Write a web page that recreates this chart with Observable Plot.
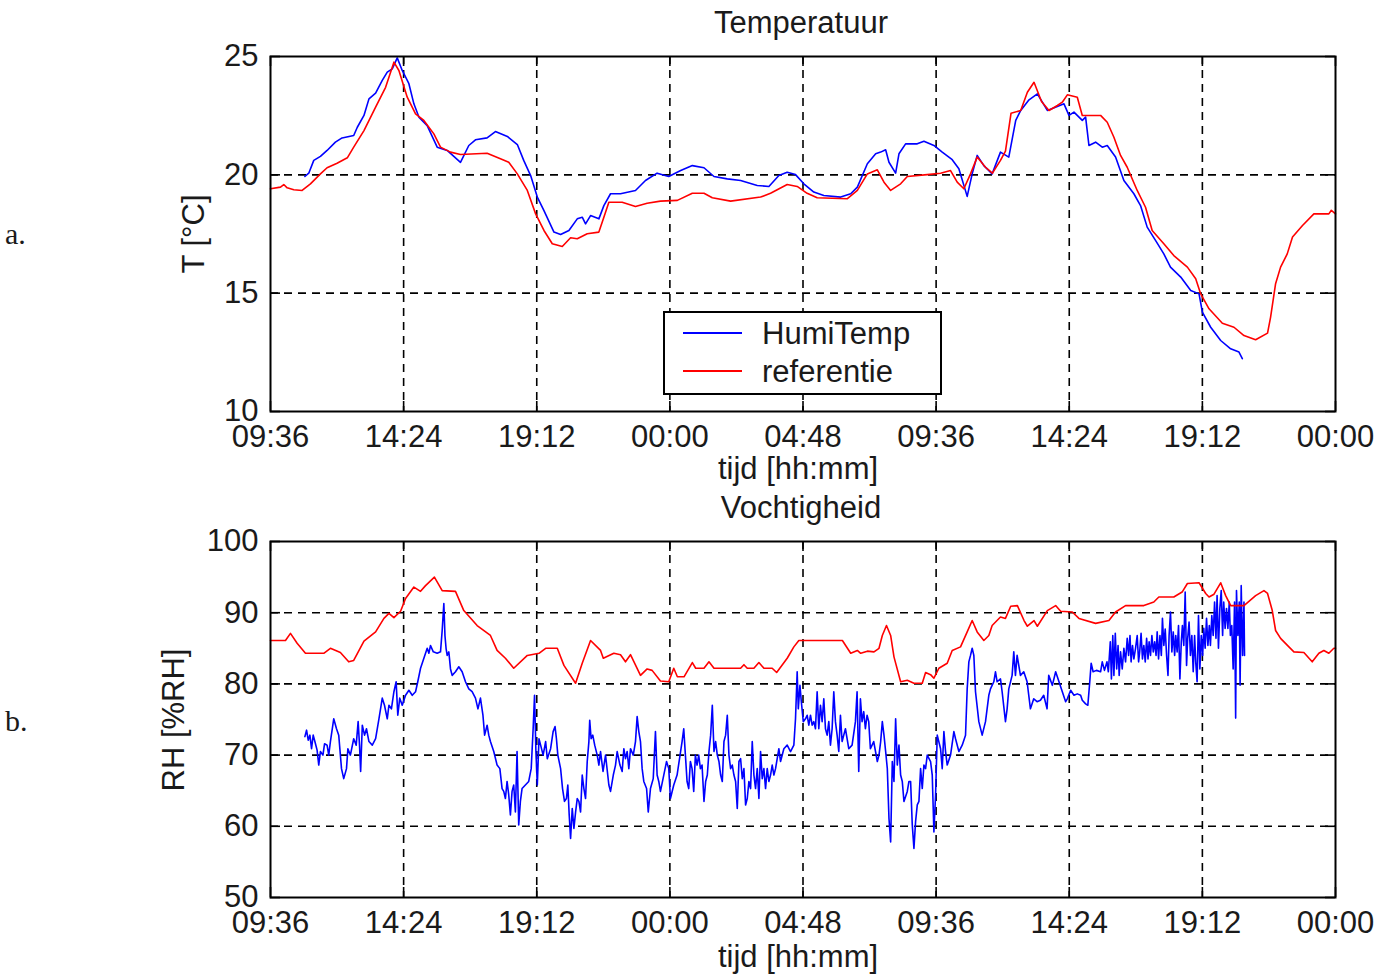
<!DOCTYPE html>
<html><head><meta charset="utf-8">
<script src="https://cdn.jsdelivr.net/npm/d3@7"></script>
<script src="https://cdn.jsdelivr.net/npm/@observablehq/plot@0.6"></script>
<style>
body{margin:0;background:#fff;width:1381px;height:978px;position:relative;overflow:hidden;font-family:"Liberation Sans",Arial,sans-serif;color:#1a1a1a}
.lbl{position:absolute;font-size:31px;white-space:nowrap;line-height:1;transform:translate(-50%,-50%)}
.rot{transform:translate(-50%,-50%) rotate(-90deg)}
.ab{position:absolute;font-family:"Liberation Serif","Times New Roman",serif;font-size:30px;line-height:1;transform:translateY(-50%)}
.panel{position:absolute;left:0}
#legend{position:absolute;left:663px;top:311px;width:275px;height:80px;border:2px solid #000;background:#fff}
.lg-line{position:absolute;left:18px;width:59px;height:0;border-top:2px solid}
.lg-txt{position:absolute;left:97px;font-size:31px;line-height:1;transform:translateY(-50%)}
</style></head><body>
<div id="p1" class="panel" style="top:0"></div>
<div id="p2" class="panel" style="top:480px"></div>
<script>
// ---- tick labels ----
const xTickHours = [0, 4.8, 9.6, 14.4, 19.2, 24, 28.8, 33.6, 38.4];
const xTickLabels = ["09:36", "14:24", "19:12", "00:00", "04:48", "09:36", "14:24", "19:12", "00:00"];
const tempTicks = [10, 15, 20, 25];
const rhTicks = [50, 60, 70, 80, 90, 100];
const seriesNames = ["HumiTemp", "referentie"];

// ---- Temperature: [hours since 09:36, °C] ----
const tempHumi = [[1.24,19.93],[1.38,20.07],[1.56,20.61],[1.80,20.78],[2.04,21.03],[2.34,21.38],[2.58,21.56],[3.00,21.66],[3.13,22.01],[3.37,22.51],[3.55,23.21],[3.79,23.45],[4.03,23.99],[4.21,24.34],[4.39,24.48],[4.57,24.94],[4.75,24.41],[4.99,23.85],[5.17,23.00],[5.35,22.44],[5.65,22.08],[6.01,21.17],[6.37,21.03],[6.85,20.53],[7.15,21.24],[7.39,21.48],[7.81,21.56],[8.11,21.83],[8.54,21.62],[8.90,21.28],[9.13,20.61],[9.38,19.97],[9.62,19.06],[9.86,18.49],[10.22,17.58],[10.46,17.48],[10.76,17.65],[11.06,18.14],[11.24,18.21],[11.36,17.93],[11.54,18.28],[11.84,18.14],[12.02,18.70],[12.26,19.20],[12.62,19.20],[13.16,19.34],[13.52,19.76],[13.94,20.07],[14.36,19.93],[14.79,20.18],[15.21,20.39],[15.63,20.30],[15.99,19.93],[16.47,19.83],[16.95,19.76],[17.55,19.55],[17.97,19.51],[18.33,19.97],[18.63,20.11],[18.93,20.01],[19.23,19.62],[19.59,19.27],[19.95,19.13],[20.56,19.06],[20.92,19.20],[21.16,19.48],[21.52,20.47],[21.82,20.89],[22.00,20.96],[22.18,21.06],[22.30,20.53],[22.54,20.07],[22.66,20.89],[22.90,21.31],[23.32,21.31],[23.56,21.42],[23.92,21.24],[24.22,20.96],[24.58,20.64],[24.82,20.26],[25.12,19.09],[25.30,20.04],[25.48,20.82],[25.72,20.39],[26.02,20.04],[26.32,20.96],[26.62,20.75],[26.87,22.30],[27.05,22.72],[27.35,23.17],[27.65,23.42],[28.01,22.72],[28.37,22.89],[28.61,23.00],[28.79,22.51],[28.97,22.65],[29.27,22.30],[29.39,22.44],[29.51,21.24],[29.75,21.38],[29.99,21.17],[30.17,21.24],[30.47,20.75],[30.77,19.76],[31.13,19.20],[31.37,18.70],[31.61,17.79],[31.91,17.23],[32.21,16.66],[32.45,16.10],[32.82,15.68],[33.18,15.11],[33.48,14.97],[33.60,14.20],[33.90,13.56],[34.26,13.00],[34.62,12.65],[34.92,12.51],[35.04,12.23]];
const tempRef = [[0,19.41],[0.36,19.48],[0.48,19.59],[0.60,19.45],[0.84,19.37],[1.14,19.34],[1.44,19.62],[1.80,20.04],[2.04,20.30],[2.40,20.49],[2.77,20.72],[3.00,21.17],[3.37,21.87],[3.79,22.86],[4.15,23.70],[4.45,24.76],[4.63,24.41],[4.93,23.28],[5.23,22.58],[5.53,22.30],[5.89,21.73],[6.13,21.17],[6.49,20.96],[6.85,20.86],[7.81,20.91],[8.29,20.68],[8.59,20.53],[8.90,20.04],[9.26,19.34],[9.56,18.35],[9.86,17.65],[10.16,17.09],[10.52,16.97],[10.82,17.34],[11.06,17.30],[11.42,17.51],[11.84,17.58],[12.02,18.21],[12.20,18.84],[12.68,18.84],[13.16,18.66],[13.58,18.80],[14.06,18.89],[14.67,18.92],[15.21,19.22],[15.63,19.22],[15.93,19.03],[16.59,18.89],[17.67,19.06],[18.03,19.22],[18.63,19.59],[18.99,19.51],[19.35,19.22],[19.71,19.03],[20.80,18.99],[21.16,19.34],[21.52,20.04],[21.88,20.21],[22.12,19.69],[22.36,19.34],[22.72,19.62],[22.96,19.93],[23.68,20.01],[24.16,20.07],[24.52,20.18],[24.76,19.69],[25.00,19.41],[25.24,20.04],[25.48,20.75],[25.78,20.32],[26.03,20.07],[26.32,20.61],[26.50,21.00],[26.70,22.60],[27.05,22.72],[27.29,23.49],[27.53,23.91],[27.80,23.10],[28.07,22.72],[28.37,22.93],[28.55,23.07],[28.73,23.38],[29.09,23.28],[29.27,22.51],[29.93,22.51],[30.17,22.22],[30.41,21.59],[30.65,20.82],[30.89,20.32],[31.25,19.34],[31.55,18.63],[31.79,17.65],[32.21,17.09],[32.57,16.59],[33.06,16.10],[33.36,15.61],[33.54,14.97],[33.84,14.34],[34.32,13.73],[34.74,13.56],[35.10,13.21],[35.52,13.03],[35.95,13.31],[36.06,13.99],[36.24,15.40],[36.42,16.10],[36.66,16.66],[36.85,17.37],[37.21,17.86],[37.62,18.35],[38.16,18.35],[38.25,18.50],[38.40,18.35]];

// ---- Relative humidity: [hours since 09:36, %RH] ----
const rhHumi = [[1.24,72.6],[1.30,73.5],[1.36,72.1],[1.42,72.8],[1.48,70.9],[1.54,72.8],[1.60,71.9],[1.68,70.7],[1.74,68.6],[1.80,70.5],[1.89,70.0],[1.95,71.6],[2.04,71.4],[2.10,70.0],[2.16,71.9],[2.28,75.1],[2.38,73.7],[2.46,72.8],[2.56,68.1],[2.64,66.7],[2.74,68.1],[2.79,70.9],[2.88,70.0],[3.00,72.3],[3.09,71.4],[3.16,74.7],[3.21,71.4],[3.25,67.7],[3.31,74.2],[3.39,72.8],[3.46,73.7],[3.55,71.9],[3.67,71.4],[3.79,72.3],[3.91,75.1],[4.03,78.0],[4.11,77.0],[4.21,75.1],[4.27,77.0],[4.36,76.5],[4.45,78.9],[4.53,80.3],[4.59,75.6],[4.66,78.0],[4.75,77.0],[4.87,78.4],[4.99,79.1],[5.11,78.4],[5.23,78.9],[5.31,80.3],[5.41,82.2],[5.53,83.6],[5.65,85.0],[5.71,84.3],[5.77,85.4],[5.87,84.5],[6.01,84.3],[6.13,84.5],[6.19,87.5],[6.25,91.3],[6.29,86.8],[6.33,85.0],[6.37,84.0],[6.43,84.5],[6.49,82.1],[6.55,81.2],[6.67,81.7],[6.79,82.4],[6.91,81.7],[7.03,80.3],[7.15,79.3],[7.27,78.9],[7.39,78.0],[7.48,76.5],[7.57,78.0],[7.66,75.6],[7.72,72.8],[7.81,74.2],[7.87,72.8],[7.93,71.9],[8.05,70.5],[8.17,68.6],[8.27,68.1],[8.35,65.3],[8.41,64.9],[8.47,63.9],[8.53,66.3],[8.59,64.4],[8.65,61.6],[8.71,64.9],[8.77,65.8],[8.83,62.0],[8.89,70.5],[8.95,60.2],[9.01,63.5],[9.07,65.3],[9.19,65.8],[9.31,66.3],[9.40,68.1],[9.47,73.7],[9.52,78.4],[9.57,70.5],[9.62,65.8],[9.68,72.3],[9.74,71.4],[9.83,70.0],[9.92,71.9],[9.98,69.5],[10.10,70.9],[10.19,73.3],[10.26,74.0],[10.31,72.3],[10.36,70.0],[10.46,68.1],[10.53,65.3],[10.60,63.5],[10.67,63.9],[10.72,65.8],[10.77,61.6],[10.82,58.3],[10.88,62.5],[10.94,59.7],[11.00,62.0],[11.06,63.9],[11.12,63.5],[11.18,62.0],[11.24,67.2],[11.30,65.3],[11.36,63.9],[11.42,69.1],[11.48,71.9],[11.51,74.9],[11.56,72.3],[11.62,72.8],[11.69,71.4],[11.78,70.0],[11.84,68.6],[11.90,70.5],[11.99,67.7],[12.08,70.0],[12.20,65.8],[12.26,64.9],[12.36,67.2],[12.44,68.6],[12.50,70.5],[12.60,68.6],[12.68,67.7],[12.74,70.9],[12.80,69.5],[12.86,70.5],[12.92,68.1],[12.98,70.9],[13.08,70.0],[13.16,71.9],[13.22,75.4],[13.28,73.3],[13.34,71.9],[13.40,68.1],[13.46,66.3],[13.56,65.3],[13.62,62.0],[13.70,65.3],[13.80,66.7],[13.88,73.3],[13.94,67.2],[14.00,66.3],[14.06,64.9],[14.18,67.2],[14.28,69.1],[14.36,68.1],[14.42,63.9],[14.54,65.8],[14.66,67.2],[14.84,71.9],[14.90,73.7],[14.96,70.0],[15.02,66.3],[15.08,65.3],[15.14,69.1],[15.20,68.1],[15.26,64.9],[15.32,70.0],[15.38,68.6],[15.44,70.0],[15.50,68.1],[15.56,68.6],[15.63,63.5],[15.69,66.3],[15.75,67.2],[15.81,70.5],[15.87,72.8],[15.93,77.0],[15.99,70.5],[16.05,71.9],[16.11,70.0],[16.17,69.1],[16.23,67.2],[16.29,66.3],[16.35,71.9],[16.41,72.8],[16.47,75.6],[16.53,70.0],[16.59,68.1],[16.65,68.6],[16.71,67.2],[16.77,66.3],[16.83,62.5],[16.89,69.1],[16.95,69.5],[17.01,66.7],[17.07,68.1],[17.13,63.0],[17.19,63.9],[17.25,66.3],[17.31,65.3],[17.37,71.9],[17.43,67.2],[17.49,65.3],[17.55,68.1],[17.61,63.9],[17.67,70.5],[17.73,66.7],[17.79,68.1],[17.85,65.3],[17.91,68.1],[17.97,66.3],[18.03,67.2],[18.09,68.6],[18.15,67.2],[18.21,68.1],[18.33,70.9],[18.39,69.1],[18.51,70.9],[18.63,71.4],[18.75,70.5],[18.87,71.4],[18.93,75.1],[18.99,81.7],[19.03,76.5],[19.09,79.8],[19.14,77.5],[19.21,74.7],[19.29,75.1],[19.35,75.6],[19.41,74.2],[19.47,75.6],[19.53,74.2],[19.59,74.7],[19.65,73.7],[19.71,78.9],[19.77,73.7],[19.83,77.0],[19.89,74.7],[19.95,77.9],[20.01,73.7],[20.07,72.8],[20.13,74.7],[20.19,71.4],[20.25,73.7],[20.31,78.9],[20.37,74.7],[20.43,72.8],[20.49,70.5],[20.55,75.6],[20.61,71.9],[20.67,72.8],[20.73,73.7],[20.85,70.9],[20.97,71.4],[21.09,74.7],[21.15,78.9],[21.21,67.7],[21.27,77.9],[21.33,74.7],[21.39,76.1],[21.45,73.7],[21.51,75.6],[21.57,74.7],[21.63,70.9],[21.75,71.9],[21.88,69.1],[21.94,70.0],[22.00,71.9],[22.06,74.7],[22.12,72.8],[22.18,70.5],[22.24,68.1],[22.30,61.1],[22.36,57.8],[22.42,69.1],[22.48,66.3],[22.54,75.1],[22.60,68.6],[22.66,71.4],[22.72,67.2],[22.78,66.3],[22.84,63.5],[22.96,64.9],[23.02,66.3],[23.08,66.3],[23.14,60.2],[23.20,56.9],[23.26,60.7],[23.32,63.0],[23.38,63.5],[23.44,68.1],[23.50,65.3],[23.56,68.6],[23.62,68.1],[23.68,70.0],[23.80,69.1],[23.86,67.2],[23.92,59.2],[23.98,64.4],[24.04,72.8],[24.16,70.9],[24.22,68.1],[24.28,73.3],[24.34,70.5],[24.40,68.6],[24.52,70.0],[24.64,73.3],[24.70,72.3],[24.82,70.5],[24.94,71.4],[25.06,72.8],[25.12,79.3],[25.18,83.1],[25.24,84.0],[25.30,85.0],[25.36,84.0],[25.42,78.9],[25.54,74.7],[25.66,72.8],[25.78,74.7],[25.90,78.4],[25.96,79.3],[26.08,80.3],[26.14,81.7],[26.20,80.3],[26.32,80.7],[26.38,78.9],[26.50,74.7],[26.56,76.5],[26.62,79.3],[26.74,81.2],[26.80,84.5],[26.86,81.2],[26.92,84.0],[27.04,81.2],[27.16,81.7],[27.28,80.3],[27.40,76.5],[27.52,77.9],[27.64,77.5],[27.76,77.7],[27.88,78.4],[28.00,76.5],[28.06,81.2],[28.19,79.8],[28.31,81.7],[28.43,80.3],[28.55,78.9],[28.67,77.5],[28.73,77.9],[28.85,79.1],[28.97,78.4],[29.09,78.6],[29.21,78.4],[29.27,77.7],[29.39,77.2],[29.47,77.0],[29.54,80.3],[29.59,82.9],[29.66,81.7],[29.78,81.9],[29.93,81.7],[29.99,83.1],[30.07,81.9],[30.16,83.1],[30.21,81.7],[30.28,85.9],[30.32,80.7],[30.37,86.8],[30.41,81.2],[30.46,87.1],[30.51,82.1],[30.56,85.4],[30.60,81.2],[30.65,84.5],[30.71,82.1],[30.77,85.0],[30.83,83.1],[30.89,86.4],[30.94,84.0],[30.99,86.8],[31.03,83.1],[31.08,85.4],[31.13,83.5],[31.19,85.0],[31.25,86.8],[31.30,83.1],[31.34,84.5],[31.39,87.1],[31.44,83.5],[31.49,85.4],[31.54,83.1],[31.59,86.4],[31.64,83.5],[31.68,85.9],[31.73,84.0],[31.78,86.8],[31.83,84.5],[31.88,85.9],[31.93,84.0],[31.97,87.3],[32.02,83.5],[32.07,86.8],[32.12,84.0],[32.16,89.2],[32.21,85.4],[32.26,87.7],[32.31,84.0],[32.36,81.2],[32.40,86.8],[32.45,90.1],[32.50,84.5],[32.55,87.3],[32.60,84.0],[32.64,86.8],[32.69,84.5],[32.74,88.2],[32.79,80.7],[32.84,85.9],[32.88,88.2],[32.93,85.4],[32.98,92.9],[33.03,82.6],[33.07,86.4],[33.12,88.7],[33.17,84.0],[33.22,86.8],[33.27,81.7],[33.32,86.8],[33.36,83.1],[33.41,80.3],[33.46,89.6],[33.51,82.1],[33.56,86.8],[33.61,84.0],[33.65,87.8],[33.70,85.0],[33.75,89.2],[33.80,85.4],[33.85,88.2],[33.89,85.4],[33.94,89.6],[33.99,86.8],[34.04,91.5],[34.09,86.4],[34.13,92.4],[34.18,85.0],[34.23,90.6],[34.28,93.1],[34.33,86.8],[34.37,91.5],[34.42,87.8],[34.47,90.6],[34.52,87.8],[34.57,91.5],[34.61,86.8],[34.66,88.2],[34.71,82.1],[34.76,91.5],[34.80,75.2],[34.83,93.1],[34.88,86.8],[34.93,91.5],[34.96,79.8],[35.00,93.8],[35.05,84.0],[35.10,91.5],[35.12,84.0]];
const rhRef = [[0,86.1],[0.54,86.1],[0.72,87.1],[0.96,85.7],[1.26,84.3],[1.92,84.3],[2.16,85.0],[2.52,84.4],[2.82,83.1],[3.00,83.3],[3.37,86.0],[3.79,87.3],[4.09,89.2],[4.27,89.9],[4.45,89.3],[4.69,90.2],[4.87,92.0],[5.17,93.6],[5.41,93.0],[5.59,93.8],[5.91,95.0],[6.19,93.1],[6.67,93.0],[6.97,90.3],[7.45,88.2],[7.93,86.8],[8.17,84.7],[8.47,83.6],[8.77,82.2],[9.26,84.0],[9.68,84.3],[9.92,85.0],[10.34,85.0],[10.58,82.6],[11.00,80.1],[11.24,82.9],[11.54,86.1],[11.90,84.7],[12.00,83.6],[12.38,84.3],[12.62,84.1],[12.80,83.1],[12.98,84.1],[13.34,81.2],[13.58,82.1],[13.76,81.9],[14.06,80.4],[14.36,80.3],[14.54,82.2],[14.67,81.0],[14.91,81.0],[15.21,83.0],[15.33,82.2],[15.63,82.2],[15.81,83.1],[15.99,82.2],[16.95,82.2],[17.07,82.7],[17.19,82.2],[17.43,82.2],[17.61,83.0],[17.79,82.2],[18.09,82.2],[18.25,81.6],[18.63,83.6],[18.87,85.2],[19.05,86.1],[20.62,86.1],[20.92,84.3],[21.16,84.7],[21.28,84.3],[21.52,84.6],[21.76,84.5],[21.94,85.0],[22.06,86.8],[22.21,88.2],[22.36,86.8],[22.48,83.8],[22.72,80.3],[22.96,80.5],[23.20,80.1],[23.50,80.1],[23.62,81.6],[23.80,81.3],[23.92,80.8],[24.10,82.2],[24.40,82.9],[24.58,84.7],[24.88,85.2],[25.12,87.3],[25.30,88.9],[25.48,87.3],[25.72,86.1],[25.90,86.8],[26.02,88.2],[26.32,89.4],[26.50,89.2],[26.69,90.9],[26.93,91.0],[27.17,88.9],[27.29,88.1],[27.53,88.9],[27.65,88.1],[28.01,90.3],[28.31,91.0],[28.49,90.2],[28.91,90.1],[29.15,89.2],[29.75,88.5],[30.23,88.9],[30.47,90.1],[30.83,91.0],[31.49,91.0],[31.85,91.5],[32.03,92.2],[32.57,92.2],[32.87,92.9],[33.06,94.1],[33.48,94.2],[33.72,92.7],[33.84,92.2],[34.02,92.6],[34.26,94.2],[34.44,92.4],[34.62,91.0],[35.10,91.0],[35.52,92.4],[35.82,93.1],[35.95,92.7],[36.12,90.3],[36.24,87.5],[36.42,86.4],[36.72,85.2],[36.90,84.5],[37.26,84.4],[37.56,83.1],[37.80,84.3],[37.98,84.7],[38.16,84.3],[38.34,85.0],[38.40,85.0]];

const BLUE = "#0000ff", RED = "#ff0000", INK = "#1a1a1a";

function panel({yDomain, yTicks, humi, ref, height, marginTop, marginBottom}) {
  const W = 1381, mL = 270, mR = 46;
  const plotH = height - marginTop - marginBottom;
  const plotW = W - mL - mR;
  const tyLen = (yDomain[1] - yDomain[0]) * 10 / plotH;   // 10px inward ticks
  const txLen = 38.4 * 10 / plotW;
  const dash = {stroke: "#000", strokeOpacity: 1, strokeWidth: 1.6, strokeDasharray: "8,6"};
  const tk = {stroke: "#000", strokeWidth: 1.6};
  return Plot.plot({
    width: W, height, marginLeft: mL, marginRight: mR, marginTop, marginBottom,
    style: {fontFamily: '"Liberation Sans", Arial, sans-serif', fontSize: "31px", color: INK, background: "transparent", overflow: "visible"},
    x: {domain: [0, 38.4]},
    y: {domain: yDomain},
    marks: [
      Plot.gridX(xTickHours.slice(1, -1), dash),
      Plot.gridY(yTicks.slice(1, -1), dash),
      Plot.ruleX(xTickHours, {x: d => d, y1: yDomain[0], y2: yDomain[0] + tyLen, ...tk}),
      Plot.ruleX(xTickHours, {x: d => d, y1: yDomain[1], y2: yDomain[1] - tyLen, ...tk}),
      Plot.ruleY(yTicks, {y: d => d, x1: 0, x2: txLen, ...tk}),
      Plot.ruleY(yTicks, {y: d => d, x1: 38.4, x2: 38.4 - txLen, ...tk}),
      Plot.axisX(xTickHours, {tickSize: 0, tickPadding: 13, label: null, tickFormat: d => xTickLabels[xTickHours.indexOf(d)]}),
      Plot.axisY(yTicks, {tickSize: 0, tickPadding: 12, label: null}),
      Plot.line(humi, {x: d => d[0], y: d => d[1], stroke: BLUE, strokeWidth: 1.6}),
      Plot.line(ref, {x: d => d[0], y: d => d[1], stroke: RED, strokeWidth: 1.6}),
      Plot.frame({stroke: "#000", strokeWidth: 2})
    ]
  });
}

document.getElementById("p1").append(panel({yDomain: [10, 25], yTicks: tempTicks, humi: tempHumi, ref: tempRef, height: 480, marginTop: 56, marginBottom: 69}));
document.getElementById("p2").append(panel({yDomain: [50, 100], yTicks: rhTicks, humi: rhHumi, ref: rhRef, height: 498, marginTop: 61, marginBottom: 81}));

function label(text, x, y, cls = "lbl") {
  const d = document.createElement("div");
  d.className = cls; d.textContent = text;
  d.style.left = x + "px"; d.style.top = y + "px";
  document.body.append(d);
  return d;
}
label("Temperatuur", 801, 22);
label("tijd [hh:mm]", 798, 468);
label("Vochtigheid", 801, 507);
label("tijd [hh:mm]", 798, 956);
label("T [°C]", 193, 234, "lbl rot");
label("RH [%RH]", 173, 720, "lbl rot");
label("a.", 5, 234, "ab");
label("b.", 5, 721, "ab");

// legend
const lg = document.createElement("div");
lg.id = "legend";
[[BLUE, seriesNames[0], 20], [RED, seriesNames[1], 58]].forEach(([c, t, y]) => {
  const l = document.createElement("div"); l.className = "lg-line"; l.style.borderTopColor = c; l.style.top = (y - 1) + "px"; lg.append(l);
  const s = document.createElement("div"); s.className = "lg-txt"; s.textContent = t; s.style.top = y + "px"; lg.append(s);
});
document.body.append(lg);
</script></body></html>
